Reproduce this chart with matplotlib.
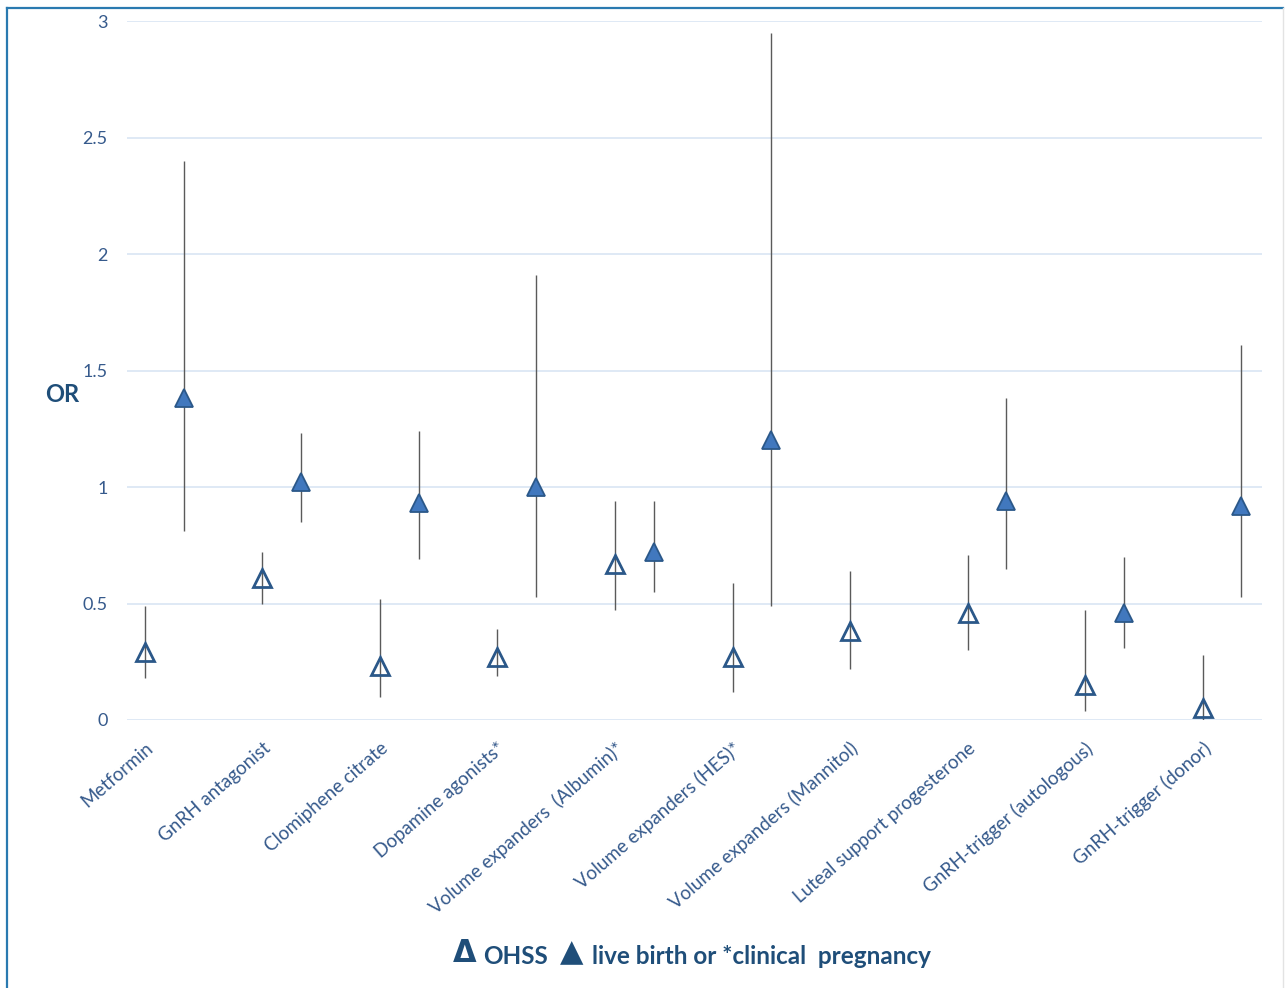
import numpy as np
import matplotlib
matplotlib.use('Agg')
import matplotlib.pyplot as plt
from matplotlib.lines import Line2D

plt.rcParams['font.family'] = ['Lato', 'DejaVu Sans']

categories = ['Metformin', 'GnRH antagonist', 'Clomiphene citrate', 'Dopamine agonists*',
              'Volume expanders  (Albumin)*', 'Volume expanders (HES)*',
              'Volume expanders (Mannitol)', 'Luteal support progesterone',
              'GnRH-trigger (autologous)', 'GnRH-trigger (donor)']

# OHSS odds ratios with lower / upper limits
ohss_or = [0.29, 0.61, 0.23, 0.27, 0.67, 0.27, 0.38, 0.46, 0.15, 0.05]
ohss_lo = [0.18, 0.50, 0.10, 0.19, 0.47, 0.12, 0.22, 0.30, 0.04, 0.00]
ohss_hi = [0.49, 0.72, 0.52, 0.39, 0.94, 0.59, 0.64, 0.71, 0.47, 0.28]

# live birth / clinical pregnancy (no value for Mannitol)
lb_or = [1.38, 1.02, 0.93, 1.00, 0.72, 1.20, np.nan, 0.94, 0.46, 0.92]
lb_lo = [0.81, 0.85, 0.69, 0.53, 0.55, 0.49, np.nan, 0.65, 0.31, 0.53]
lb_hi = [2.40, 1.23, 1.24, 1.91, 0.94, 2.95, np.nan, 1.38, 0.70, 1.61]

yticks = [0, 0.5, 1, 1.5, 2, 2.5, 3]
ytick_labels = ['0', '0.5', '1', '1.5', '2', '2.5', '3']

tick_col = '#365A8C'
dark = '#1F4E79'
edge = '#2B5889'
fill = '#4178BE'

fig = plt.figure(figsize=(12.85, 9.88), dpi=100)
ax = fig.add_axes([127/1285, 1 - 720/988, (1262 - 127)/1285, (720 - 21)/988])

x = np.arange(len(categories))
off = 0.33

ax.vlines(x, ohss_lo, ohss_hi, color='#5A5A5A', lw=1.0, zorder=2)
ax.vlines(x + off, lb_lo, lb_hi, color='#5A5A5A', lw=1.0, zorder=2)
ax.plot(x, ohss_or, ls='none', marker='^', ms=13, mfc='none', mec=edge, mew=2.0, zorder=3)
ax.plot(x + off, lb_or, ls='none', marker='^', ms=13, mfc=fill, mec=edge, mew=1.3, zorder=3)

ax.set_xlim(-0.153, 9.506)
ax.set_ylim(0, 3)
ax.set_yticks(yticks)
ax.set_yticklabels(ytick_labels)
ax.set_xticks(x)
ax.set_xticklabels(categories, rotation=41, ha='right', va='top', rotation_mode='anchor')
ax.tick_params(axis='y', length=0, pad=14, labelsize=13, labelcolor=tick_col)
ax.tick_params(axis='x', length=0, pad=14, labelsize=13.5, labelcolor=tick_col)
for s in ax.spines.values():
    s.set_visible(False)
ax.grid(axis='y', color='#D9E5F4', lw=1.2)
ax.set_axisbelow(True)

fig.text(45/1285, 1 - 394/988, 'OR', fontsize=17, fontweight='bold', color=dark, va='center', ha='left')

# legend drawn as text, as in the original
ly = 1 - 956/988
fig.text(453/1285, ly + 0.003, '\u0394', fontsize=22, fontweight='bold', color=dark,
         va='center', ha='left', family=['DejaVu Sans'])
fig.text(483/1285, ly, 'OHSS', fontsize=17.5, fontweight='bold', color=dark, va='center', ha='left')
fig.text(560/1285, ly + 0.003, '\u25B2', fontsize=22, color=dark, va='center', ha='left',
         family=['DejaVu Sans'])
fig.text(592/1285, ly, 'live birth or *clinical  pregnancy', fontsize=17.5, fontweight='bold',
         color=dark, va='center', ha='left')

# outer frame
fig.add_artist(Line2D([7/1285, 7/1285], [0, 1 - 8/988], color='#2A7AB0', lw=1.6))
fig.add_artist(Line2D([7/1285, 1283/1285], [1 - 8/988, 1 - 8/988], color='#2A7AB0', lw=1.6))
fig.add_artist(Line2D([1283/1285, 1283/1285], [0, 1 - 8/988], color='#E3E3E3', lw=1))

fig.savefig('out.png', dpi=100, facecolor='white')
